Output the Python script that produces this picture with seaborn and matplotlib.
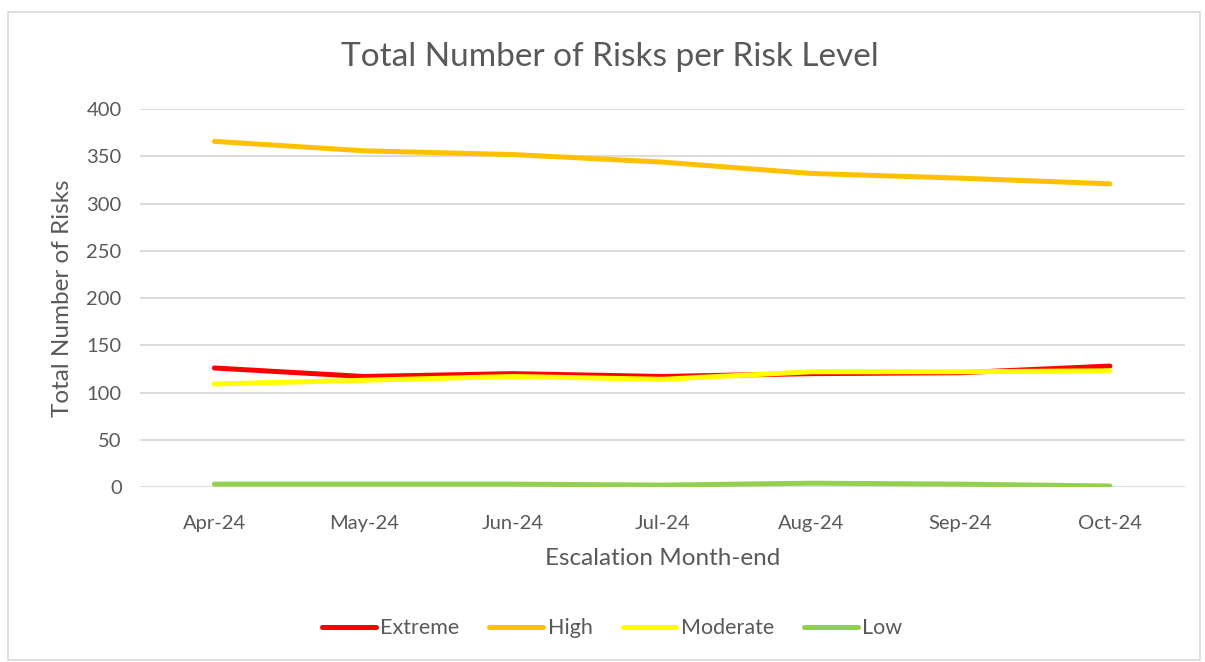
import numpy as np
import pandas as pd
import matplotlib.pyplot as plt
from matplotlib.patches import Rectangle
import seaborn as sns

sns.set_style("white")
plt.rcParams['font.family'] = ['Lato', 'DejaVu Sans']

months = ["Apr-24", "May-24", "Jun-24", "Jul-24", "Aug-24", "Sep-24", "Oct-24"]
extreme = [126, 117, 120, 117, 120, 121, 128]
high = [366, 356, 352, 344, 332, 327, 321]
moderate = [109, 113, 117, 114, 122, 122, 123]
low = [3, 3, 3, 2, 4, 3, 1]

levels = ["Extreme", "High", "Moderate", "Low"]
colors = ["#FF0000", "#FFC000", "#FFFF00", "#92D050"]

df = pd.DataFrame({"Extreme": extreme, "High": high, "Moderate": moderate, "Low": low},
                  index=months)
long = df.reset_index(names="Month").melt(id_vars="Month", var_name="Level", value_name="Risks")
long["x"] = long["Month"].map({m: i for i, m in enumerate(months)})

txt = "#595959"
fig = plt.figure(figsize=(12.05, 6.62), dpi=100)
ax = fig.add_axes([0.116, 0.2644, 0.867, 0.5706])

sns.lineplot(data=long, x="x", y="Risks", hue="Level", hue_order=levels,
             palette=dict(zip(levels, colors)), linewidth=3.6, ax=ax,
             solid_capstyle="round", legend=False)

ax.set_xlim(-0.5, 6.5)
ax.set_ylim(0, 400)
ax.set_yticks(np.arange(0, 401, 50))
ax.set_xticks(range(len(months)))
ax.set_xticklabels(months)
ax.grid(axis="y", color="#D9D9D9", linewidth=1.3)
ax.set_axisbelow(True)
for s in ax.spines.values():
    s.set_visible(False)
ax.tick_params(axis="both", length=0, labelsize=14.5, colors=txt)
ax.tick_params(axis="x", pad=20)
ax.tick_params(axis="y", pad=13)
ax.set_xlabel("Escalation Month-end", fontsize=17.5, color=txt, labelpad=12)
ax.set_ylabel("Total Number of Risks", fontsize=17.5, color=txt, labelpad=10)

fig.text(0.506, 0.914, "Total Number of Risks per Risk Level", ha="center", va="center",
         fontsize=24, color=txt)

handles = [plt.Line2D([], [], color=c, linewidth=3.6, solid_capstyle="round") for c in colors]
fig.legend(handles, levels, loc="center", bbox_to_anchor=(0.508, 0.051), ncol=4,
           frameon=False, fontsize=15.5, labelcolor=txt, handlelength=2.5,
           handletextpad=0.2, columnspacing=1.4)

fig.patches.append(Rectangle((8 / 1205, 2 / 662), 1192 / 1205, 648 / 662,
                             transform=fig.transFigure, fill=False,
                             edgecolor="#D9D9D9", linewidth=1.2))

fig.savefig("out.png", dpi=100)
